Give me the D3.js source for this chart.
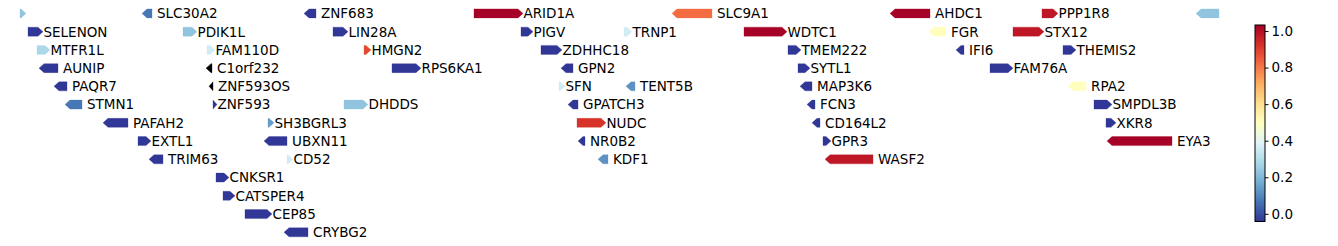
<!DOCTYPE html>
<html>
<head>
<meta charset="utf-8">
<script src="https://cdn.jsdelivr.net/npm/d3@7"></script>
<style>
  body { margin: 0; background: #fff; }
  svg { display: block; }
  text { font-family: "DejaVu Sans", sans-serif; font-size: 13.5px; fill: #000; }
</style>
</head>
<body>
<div id="chart"></div>
<script>
// gene track data (positions in track units, row = stacking level)
const geneNames = ["", "SLC30A2", "ZNF683", "ARID1A", "SLC9A1", "AHDC1", "PPP1R8", "",
  "SELENON", "PDIK1L", "LIN28A", "PIGV", "TRNP1", "WDTC1", "FGR", "STX12",
  "MTFR1L", "FAM110D", "HMGN2", "ZDHHC18", "TMEM222", "IFI6", "THEMIS2",
  "AUNIP", "C1orf232", "RPS6KA1", "GPN2", "SYTL1", "FAM76A",
  "PAQR7", "ZNF593OS", "SFN", "TENT5B", "MAP3K6", "RPA2",
  "STMN1", "ZNF593", "DHDDS", "GPATCH3", "FCN3", "SMPDL3B",
  "PAFAH2", "SH3BGRL3", "NUDC", "CD164L2", "XKR8",
  "EXTL1", "UBXN11", "NR0B2", "GPR3", "EYA3",
  "TRIM63", "CD52", "KDF1", "WASF2",
  "CNKSR1", "CATSPER4", "CEP85", "CRYBG2"];
const geneStart = [2, 124, 286, 456, 654, 872, 1024, 1178,
  10, 165, 315, 503, 606, 726, 911, 995,
  19, 189, 346, 523, 770, 938, 1045,
  21, 188, 374, 543, 780, 972,
  36, 191, 541, 608, 782, 1050,
  47, 195, 326, 550, 789, 1076,
  85, 250, 559, 794, 1088,
  120, 246, 560, 805, 1089,
  131, 269, 580, 807,
  198, 205, 227, 266];
const geneEnd = [8, 134, 298, 505, 694, 912, 1040, 1201,
  25, 179, 330, 515, 614, 769, 928, 1026,
  32, 197, 353, 544, 783, 946, 1058,
  40, 194, 403, 555, 792, 995,
  49, 195, 547, 617, 794, 1068,
  64, 199, 350, 560, 797, 1094,
  110, 256, 588, 802, 1098,
  133, 269, 567, 813, 1154,
  145, 275, 590, 855,
  211, 217, 254, 290];
const geneStrand = ["+", "-", "-", "+", "-", "-", "+", "-",
  "+", "+", "+", "+", "+", "+", "-", "+",
  "+", "+", "+", "+", "+", "-", "+",
  "-", "-", "+", "-", "+", "+",
  "-", "-", "+", "-", "-", "-",
  "-", "+", "+", "-", "-", "+",
  "-", "+", "+", "-", "+",
  "+", "-", "-", "+", "-",
  "-", "+", "-", "-",
  "+", "+", "+", "-"];
const geneRow = [0, 0, 0, 0, 0, 0, 0, 0,
  1, 1, 1, 1, 1, 1, 1, 1,
  2, 2, 2, 2, 2, 2, 2,
  3, 3, 3, 3, 3, 3,
  4, 4, 4, 4, 4, 4,
  5, 5, 5, 5, 5, 5,
  6, 6, 6, 6, 6,
  7, 7, 7, 7, 7,
  8, 8, 8, 8,
  9, 10, 11, 12];
// null = no score (drawn black)
const geneScore = [0.23, 0.07, -0.04, 1.03, 0.82, 1.03, 0.98, 0.23,
  -0.04, 0.23, -0.04, -0.04, 0.36, 1.03, 0.5, 0.98,
  0.28, 0.36, 0.88, -0.04, -0.04, -0.04, -0.04,
  -0.04, null, -0.04, -0.04, -0.04, -0.04,
  -0.04, null, 0.36, 0.12, -0.04, 0.5,
  0.07, -0.04, 0.23, -0.04, -0.04, -0.04,
  -0.04, 0.14, 0.92, -0.04, -0.04,
  -0.04, -0.04, -0.04, -0.04, 1.03,
  -0.04, 0.36, 0.12, 0.98,
  -0.04, -0.04, -0.04, -0.04];
const cbTicks = [0.0, 0.2, 0.4, 0.6, 0.8, 1.0];
const cbDomain = [-0.042, 1.033];
// RdYlBu_r anchor colours (linear segments, like matplotlib)
const cmapColors = ["#313695", "#4575b4", "#74add1", "#abd9e9", "#e0f3f8", "#ffffbf",
  "#fee090", "#fdae61", "#f46d43", "#d73027", "#a50026"];

const width = 1338, height = 246;
const genes = geneNames.map((name, i) => ({
  name, start: geneStart[i], end: geneEnd[i], strand: geneStrand[i],
  row: geneRow[i], score: geneScore[i]
}));

const x = d3.scaleLinear().domain([0, 1204]).range([18, 1222]);
const y = d3.scaleLinear().domain([0, 12]).range([13.4, 232.3]);
const cmap = d3.piecewise(d3.interpolateRgb, cmapColors);
const norm = d3.scaleLinear().domain(cbDomain).range([0, 1]).clamp(true);
const color = v => v == null ? "#000" : cmap(norm(v));

const geneH = 9, headLen = 5;

const svg = d3.select("#chart").append("svg")
  .attr("width", width).attr("height", height)
  .attr("viewBox", `0 0 ${width} ${height}`);

function arrow(d) {
  const x0 = x(d.start), x1 = x(d.end), cy = y(d.row), h = geneH / 2;
  const hl = Math.min(headLen, x1 - x0);
  if (d.strand === "+") {
    return `M${x0},${cy - h}L${x1 - hl},${cy - h}L${x1},${cy}L${x1 - hl},${cy + h}L${x0},${cy + h}Z`;
  }
  return `M${x1},${cy - h}L${x0 + hl},${cy - h}L${x0},${cy}L${x0 + hl},${cy + h}L${x1},${cy + h}Z`;
}

const g = svg.append("g");
g.selectAll("path.gene")
  .data(genes)
  .join("path")
  .attr("class", "gene")
  .attr("d", arrow)
  .attr("fill", d => color(d.score))
  .attr("stroke", d => color(d.score))
  .attr("stroke-width", 0.5)
  .attr("stroke-opacity", 0.6);

g.selectAll("text.label")
  .data(genes.filter(d => d.name))
  .join("text")
  .attr("class", "label")
  .attr("x", d => x(d.end) + (d.strand === "+" ? 0.5 : 5))
  .attr("y", d => y(d.row))
  .attr("dy", "0.36em")
  .text(d => d.name);

// colorbar
const cbX = 1255, cbW = 10;
const cy = d3.scaleLinear().domain(cbDomain).range([221.5, 25]);
const defs = svg.append("defs");
const grad = defs.append("linearGradient")
  .attr("id", "cbgrad").attr("x1", 0).attr("y1", 1).attr("x2", 0).attr("y2", 0);
cmapColors.forEach((c, i) => {
  grad.append("stop").attr("offset", i / (cmapColors.length - 1)).attr("stop-color", c);
});
svg.append("rect")
  .attr("x", cbX).attr("y", cy(cbDomain[1]))
  .attr("width", cbW).attr("height", cy(cbDomain[0]) - cy(cbDomain[1]))
  .attr("fill", "url(#cbgrad)")
  .attr("stroke", "#000").attr("stroke-width", 1);

const cbAxis = svg.append("g")
  .attr("transform", `translate(${cbX + cbW},0)`)
  .call(d3.axisRight(cy).tickValues(cbTicks).tickFormat(d3.format(".1f")).tickSize(3.5).tickPadding(3));
cbAxis.select(".domain").remove();
cbAxis.selectAll("text")
  .style("font-family", "DejaVu Sans, sans-serif")
  .style("font-size", "13.5px")
  .attr("fill", "#000");
cbAxis.selectAll("line").attr("stroke", "#000");
</script>
</body>
</html>
